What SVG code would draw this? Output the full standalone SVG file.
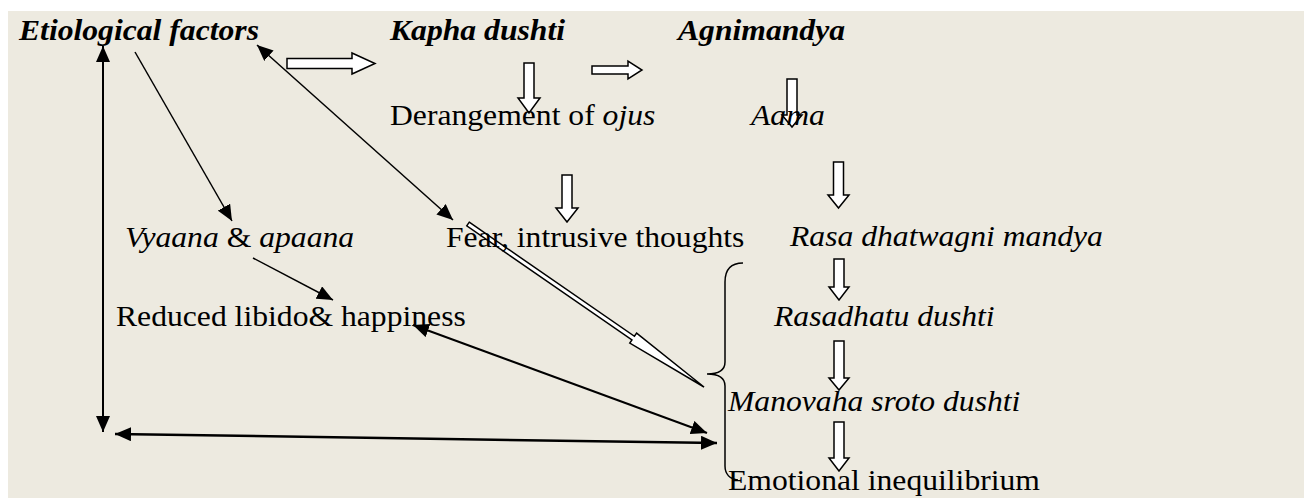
<svg xmlns="http://www.w3.org/2000/svg" width="1304" height="498" viewBox="0 0 1304 498">
<style>
text{font-family:"Liberation Serif","Times New Roman",serif;font-size:30px;fill:#000}
.b{font-weight:bold;font-style:italic}
.i{font-style:italic}
.hollow{fill:#fff;stroke:#000;stroke-width:1.5;stroke-linejoin:miter}
.ln{stroke:#000;fill:none}
</style>
<defs>
<marker id="ah" markerUnits="userSpaceOnUse" markerWidth="16" markerHeight="14" refX="16" refY="7" orient="auto-start-reverse" viewBox="0 0 16 14">
<path d="M0,0 L16,7 L0,14 Z" fill="#000"/>
</marker>
</defs>
<rect x="0" y="0" width="1304" height="498" fill="#fff"/>
<rect x="8" y="11" width="1296" height="487" fill="#EDEAE0"/>

<g id="connectors">
<path class="hollow" d="M287,58.5 H352 V53 L375,63.5 L352,74 V68.5 H287 Z"/>
<path class="hollow" d="M592,66 H628 V61 L642,70 L628,79 V74 H592 Z"/>
<path class="hollow" d="M524,63 H534 V98 H540 L529,113 L518,98 H524 Z"/>
<path class="hollow" d="M787,79 H797 V115 H802 L792,127 L782,115 H787 Z"/>
<path class="hollow" d="M833.5,162 H843.5 V195 H849 L838.5,208 L828,195 H833.5 Z"/>
<path class="hollow" d="M562,175 H572 V208 H578 L567,222 L556,208 H562 Z"/>
<path class="hollow" d="M834,259 H844 V287 H849 L839,300 L829,287 H834 Z"/>
<path class="hollow" d="M834,341 H844 V378 H849 L839,390 L829,378 H834 Z"/>
<path class="hollow" d="M834,422 H844 V458 H849 L839,471 L829,458 H834 Z"/>
<path class="hollow" stroke-width="1.2" d="M469.25,222.19 L634.45,336.29 L636.61,333.16 L704,387 L629.79,343.04 L631.95,339.91 L466.75,225.81 Z"/>
<line class="ln" stroke-width="2" x1="103" y1="46" x2="103" y2="432" marker-start="url(#ah)" marker-end="url(#ah)"/>
<line class="ln" stroke-width="2.5" x1="115" y1="434" x2="717" y2="443" marker-start="url(#ah)" marker-end="url(#ah)"/>
<line class="ln" stroke-width="1.5" x1="135" y1="52" x2="232" y2="221" marker-end="url(#ah)"/>
<line class="ln" stroke-width="1.5" x1="257" y1="45" x2="453" y2="220" marker-start="url(#ah)" marker-end="url(#ah)"/>
<line class="ln" stroke-width="1.5" x1="253" y1="258" x2="333" y2="300" marker-end="url(#ah)"/>
<line class="ln" stroke-width="2" x1="413" y1="325" x2="707" y2="433" marker-start="url(#ah)" marker-end="url(#ah)"/>
<path class="ln" stroke-width="1.5" d="M743,263 C730,263 725,270 725,282 V362 C725,370 718,374 707,374 C718,374 725,378 725,386 V466 C725,474 730,479 738,480"/>
</g>

<g id="n-etiological"><text class="b" transform="translate(19,40) scale(1.055,1)">Etiological factors</text></g>
<g id="n-kapha"><text class="b" transform="translate(390,40) scale(1.055,1)">Kapha dushti</text></g>
<g id="n-agnimandya"><text class="b" transform="translate(678,40) scale(1.055,1)">Agnimandya</text></g>
<g id="n-ojus"><text transform="translate(390,125) scale(1.055,1)">Derangement of <tspan class="i">ojus</tspan></text></g>
<g id="n-aama"><text class="i" transform="translate(751,125) scale(1.055,1)">Aama</text></g>
<g id="n-vyaana"><text transform="translate(125,247) scale(1.055,1)"><tspan class="i">Vyaana</tspan> &amp; <tspan class="i">apaana</tspan></text></g>
<g id="n-fear"><text transform="translate(446,247) scale(1.055,1)">Fear, intrusive thoughts</text></g>
<g id="n-rasadhatwagni"><text class="i" transform="translate(790,246) scale(1.055,1)">Rasa dhatwagni mandya</text></g>
<g id="n-reduced"><text transform="translate(116,326) scale(1.055,1)">Reduced libido&amp; happiness</text></g>
<g id="n-rasadhatu"><text class="i" transform="translate(774,326) scale(1.055,1)">Rasadhatu dushti</text></g>
<g id="n-manovaha"><text class="i" transform="translate(728,411) scale(1.055,1)">Manovaha sroto dushti</text></g>
<g id="n-emotional"><text transform="translate(728,490) scale(1.055,1)">Emotional inequilibrium</text></g>
</svg>
